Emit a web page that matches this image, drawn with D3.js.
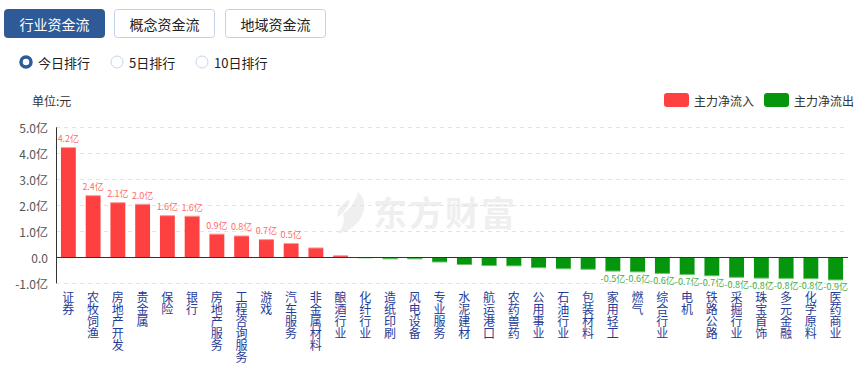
<!DOCTYPE html>
<html>
<head>
<meta charset="utf-8">
<script src="https://cdn.jsdelivr.net/npm/d3@7"></script>
<style>
  body { margin: 0; background: #fff; }
  svg { display: block; font-family: "Noto Sans CJK SC", "Microsoft YaHei", sans-serif; }
</style>
</head>
<body>
<div id="chart"></div>
<script>
// 行业资金流 data (亿)
const categories = ["证券", "农牧饲渔", "房地产开发", "贵金属", "保险", "银行", "房地产服务", "工程咨询服务",
  "游戏", "汽车服务", "非金属材料", "酿酒行业", "化纤行业", "造纸印刷", "风电设备", "专业服务",
  "水泥建材", "航运港口", "农药兽药", "公用事业", "石油行业", "包装材料", "家用轻工", "燃气",
  "综合行业", "电机", "铁路公路", "采掘行业", "珠宝首饰", "多元金融", "化学原料", "医药商业"];
const values = [4.22, 2.37, 2.1, 2.04, 1.6, 1.58, 0.89, 0.82,
  0.68, 0.53, 0.36, 0.06, -0.02, -0.06, -0.06, -0.18,
  -0.28, -0.32, -0.33, -0.4, -0.44, -0.46, -0.53, -0.56,
  -0.62, -0.66, -0.71, -0.77, -0.8, -0.81, -0.82, -0.87];
const yTicks = [-1, 0, 1, 2, 3, 4, 5];
const tabs = ["行业资金流", "概念资金流", "地域资金流"];
const radios = ["今日排行", "5日排行", "10日排行"];
const legendItems = ["主力净流入", "主力净流出"];

const W = 855, H = 367;
const RED = "#ff4040", GREEN = "#06960e";

const svg = d3.select("#chart").append("svg")
    .attr("width", W)
    .attr("height", H);

svg.append("rect").attr("width", W).attr("height", H).attr("fill", "#fff");

// tabs
const tabX = [4, 114, 225];
tabs.forEach((t, i) => {
    svg.append("rect")
        .attr("x", tabX[i] + 0.5).attr("y", 9.5)
        .attr("width", 100).attr("height", 28)
        .attr("rx", 3)
        .attr("fill", i === 0 ? "#2e5a98" : "#fff")
        .attr("stroke", i === 0 ? "#2e5a98" : "#bdd3ea");
    svg.append("text")
        .attr("x", tabX[i] + 50.5).attr("y", 24)
        .attr("text-anchor", "middle")
        .attr("dominant-baseline", "central")
        .attr("font-size", "14px")
        .attr("fill", i === 0 ? "#fff" : "#222")
        .text(t);
});

// radios
const radioX = [26, 117, 202];
radios.forEach((t, i) => {
    if (i === 0) {
        svg.append("circle").attr("cx", radioX[i]).attr("cy", 62).attr("r", 5)
            .attr("fill", "#fff").attr("stroke", "#2e5a98").attr("stroke-width", 3.5);
    } else {
        svg.append("circle").attr("cx", radioX[i]).attr("cy", 62).attr("r", 6)
            .attr("fill", "#fff").attr("stroke", "#c3d6ea").attr("stroke-width", 1);
    }
    svg.append("text")
        .attr("x", radioX[i] + 12).attr("y", 62)
        .attr("dominant-baseline", "central")
        .attr("font-size", "13px")
        .attr("fill", "#222")
        .text(t);
});

// unit
svg.append("text")
    .attr("x", 32).attr("y", 100)
    .attr("dominant-baseline", "central")
    .attr("font-size", "12px")
    .attr("fill", "#333")
    .text("单位:元");

// legend
const legX = [664, 764];
legendItems.forEach((t, i) => {
    svg.append("rect")
        .attr("x", legX[i]).attr("y", 93)
        .attr("width", 25).attr("height", 14)
        .attr("rx", 3)
        .attr("fill", i === 0 ? RED : GREEN);
    svg.append("text")
        .attr("x", legX[i] + 30).attr("y", 100)
        .attr("dominant-baseline", "central")
        .attr("font-size", "12px")
        .attr("fill", "#333")
        .text(t);
});

// scales
const x = d3.scaleBand()
    .domain(categories)
    .range([56, 848])
    .paddingInner(0.4)
    .paddingOuter(0.2);

const y = d3.scaleLinear()
    .domain([-1, 5])
    .range([283.3, 127.3]);

// watermark
const wm = svg.append("g").attr("fill", "#efefef");
wm.append("path")
    .attr("d", "M358,192 C368,200 366,216 354,226 C348,231 342,233 337,234 C343,228 345,221 343,214 C349,210 355,203 358,192 Z M350,199 C349,207 343,213 338,217 C336,211 340,205 350,199 Z");
wm.append("text")
    .attr("x", 373).attr("y", 211)
    .attr("dominant-baseline", "central")
    .attr("font-size", "34px")
    .attr("font-weight", "bold")
    .attr("letter-spacing", "2px")
    .text("东方财富");

// grid
svg.append("g")
    .selectAll("line")
    .data(yTicks.filter(d => d !== 0))
    .enter().append("line")
    .attr("x1", 56).attr("x2", 848)
    .attr("y1", d => Math.round(y(d)) + 0.5)
    .attr("y2", d => Math.round(y(d)) + 0.5)
    .attr("stroke", "#e3e3e3")
    .attr("stroke-dasharray", "4,4");

// y axis labels
svg.append("g")
    .selectAll("text")
    .data(yTicks)
    .enter().append("text")
    .attr("x", 48)
    .attr("y", d => y(d))
    .attr("text-anchor", "end")
    .attr("dominant-baseline", "central")
    .attr("font-size", "12px")
    .attr("fill", "#555")
    .text(d => d === 0 ? "0.0" : d.toFixed(1) + "亿");

// bars
svg.append("g")
    .selectAll("rect")
    .data(values)
    .enter().append("rect")
    .attr("x", (d, i) => x(categories[i]))
    .attr("width", x.bandwidth())
    .attr("y", d => d >= 0 ? y(d) : y(0))
    .attr("height", d => Math.abs(y(d) - y(0)))
    .attr("fill", d => d >= 0 ? RED : GREEN);

// thin lighter edge at bar ends
svg.append("g")
    .selectAll("line")
    .data(values)
    .enter().append("line")
    .attr("x1", (d, i) => x(categories[i]))
    .attr("x2", (d, i) => x(categories[i]) + x.bandwidth())
    .attr("y1", d => y(d))
    .attr("y2", d => y(d))
    .attr("stroke", d => d >= 0 ? "#ff9a9a" : "#6cc46c")
    .attr("stroke-width", 1);

// value labels: top 10 and bottom 10
const n = values.length;
const labelIdx = d3.range(n).filter(i => i < 10 || i >= n - 10);
svg.append("g")
    .selectAll("text")
    .data(labelIdx)
    .enter().append("text")
    .attr("x", i => x(categories[i]) + x.bandwidth() / 2)
    .attr("y", i => values[i] >= 0 ? y(values[i]) - 9 : y(values[i]) + 7)
    .attr("text-anchor", "middle")
    .attr("dominant-baseline", "central")
    .attr("font-size", "9px")
    .attr("fill", i => values[i] >= 0 ? "#ff6b6b" : "#45ad45")
    .text(i => values[i].toFixed(1) + "亿");

// axes lines
svg.append("line")
    .attr("x1", 56.5).attr("x2", 56.5)
    .attr("y1", y(5)).attr("y2", y(-1))
    .attr("stroke", "#333");
svg.append("line")
    .attr("x1", 56).attr("x2", 848)
    .attr("y1", Math.round(y(0)) + 0.5).attr("y2", Math.round(y(0)) + 0.5)
    .attr("stroke", "#333");

// vertical category labels, one char per line
const xl = svg.append("g")
    .selectAll("text")
    .data(categories)
    .enter().append("text")
    .attr("x", d => x(d) + x.bandwidth() / 2)
    .attr("y", 296)
    .attr("text-anchor", "middle")
    .attr("font-size", "12px")
    .attr("fill", "#1f3c98");

xl.selectAll("tspan")
    .data(d => Array.from(d))
    .enter().append("tspan")
    .attr("x", function () { return this.parentNode.getAttribute("x"); })
    .attr("y", (c, j) => 296 + j * 12)
    .attr("dominant-baseline", "central")
    .text(c => c);
</script>
</body>
</html>
